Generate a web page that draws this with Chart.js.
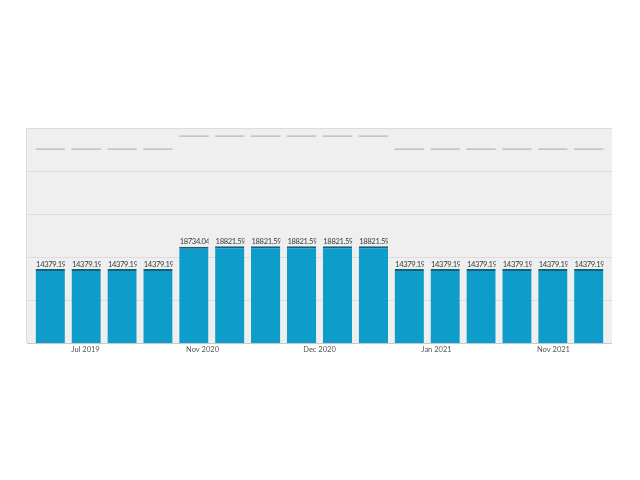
<!DOCTYPE html>
<html>
<head>
<meta charset="utf-8">
<script src="https://cdn.jsdelivr.net/npm/chart.js@4"></script>
<style>
  html, body { margin: 0; padding: 0; background: #fff; }
  #wrap { width: 640px; height: 480px; }
</style>
</head>
<body>
<div id="wrap"><canvas id="chart"></canvas></div>
<script>
const periods = ["P1", "P2", "P3", "P4", "P5", "P6", "P7", "P8",
                 "P9", "P10", "P11", "P12", "P13", "P14", "P15", "P16"];
const amounts = [14379.19, 14379.19, 14379.19, 14379.19,
                 18734.04, 18821.59, 18821.59, 18821.59, 18821.59, 18821.59,
                 14379.19, 14379.19, 14379.19, 14379.19, 14379.19, 14379.19];
const limits = [37700, 37700, 37700, 37700,
                40225, 40225, 40225, 40225, 40225, 40225,
                37700, 37700, 37700, 37700, 37700, 37700];
const monthLabels = ["Jul 2019", "Nov 2020", "Dec 2020", "Jan 2021", "Nov 2021"];

const PAD_X = 5.3; // grey panel sticks out a little past the bar area

// grey plot panel with its own grid lines
const plotBackground = {
  id: "plotBackground",
  beforeDatasetsDraw(chart) {
    const { ctx, chartArea: a, scales } = chart;
    const l = a.left - PAD_X, r = a.right + PAD_X;
    ctx.save();
    ctx.fillStyle = "#efefef";
    ctx.fillRect(l, a.top, r - l, a.bottom - a.top);
    ctx.strokeStyle = "#dcdcdc";
    ctx.lineWidth = 1;
    ctx.beginPath();
    scales.y.ticks.forEach(t => {
      const y = Math.round(scales.y.getPixelForValue(t.value)) + 0.5;
      if (y < a.bottom - 1) {
        ctx.moveTo(l, y);
        ctx.lineTo(r, y);
      }
    });
    ctx.moveTo(l - 0.5, a.top);
    ctx.lineTo(l - 0.5, a.bottom);
    ctx.stroke();
    ctx.restore();
  },
  afterDatasetsDraw(chart) {
    const { ctx, chartArea: a } = chart;
    ctx.save();
    ctx.strokeStyle = "#c8c8c8";
    ctx.beginPath();
    ctx.moveTo(a.left - PAD_X, a.bottom + 0.5);
    ctx.lineTo(a.right + PAD_X, a.bottom + 0.5);
    ctx.stroke();
    ctx.restore();
  }
};

// value labels above bars, clipped to the bar width
const barLabels = {
  id: "barLabels",
  afterDatasetsDraw(chart) {
    const { ctx } = chart;
    const meta = chart.getDatasetMeta(0);
    ctx.save();
    ctx.font = "7.6px Lato, sans-serif";
    ctx.letterSpacing = "-0.35px";
    ctx.fillStyle = "#3a3a3a";
    ctx.textBaseline = "bottom";
    meta.data.forEach((bar, i) => {
      const left = bar.x - bar.width / 2;
      ctx.save();
      ctx.beginPath();
      ctx.rect(left, bar.y - 12, bar.width, 12);
      ctx.clip();
      ctx.fillText(amounts[i].toFixed(2) + " $", left + 0.5, bar.y - 1);
      ctx.restore();
    });
    ctx.restore();
  }
};

new Chart(document.getElementById("chart"), {
  type: "bar",
  data: {
    labels: periods,
    datasets: [
      {
        label: "Amount",
        data: amounts,
        backgroundColor: "#0e9dca",
        borderColor: "#15607a",
        borderWidth: { top: 2, left: 0, right: 0, bottom: 0 },
        borderSkipped: false,
        barPercentage: 0.816,
        categoryPercentage: 1.0,
        order: 2
      },
      {
        type: "line",
        label: "Limit",
        data: limits,
        showLine: false,
        pointStyle: "line",
        pointRadius: 14.6,
        pointHoverRadius: 14.6,
        pointBorderWidth: 1,
        pointBorderColor: "#a8a8a8",
        borderColor: "#a8a8a8",
        order: 1
      }
    ]
  },
  options: {
    responsive: true,
    maintainAspectRatio: false,
    animation: false,
    layout: { padding: { left: 32.3, right: 33.3, top: 128, bottom: 124 } },
    plugins: {
      legend: { display: false },
      tooltip: { enabled: false }
    },
    scales: {
      x: { display: false, offset: true },
      // month labels sit under five equal slices of the grey panel
      x2: {
        type: "linear",
        position: "bottom",
        offset: false,
        min: 0.045,
        max: 4.955,
        afterBuildTicks(axis) {
          axis.ticks = monthLabels.map((_, i) => ({ value: i + 0.5 }));
        },
        grid: { display: false, drawTicks: false, offset: false },
        border: { display: false },
        ticks: {
          color: "#555",
          font: { family: "Lato, sans-serif", size: 7.5 },
          padding: 2,
          maxRotation: 0,
          autoSkip: false,
          callback: (v, i) => monthLabels[i]
        }
      },
      y: {
        min: 0,
        max: 41800,
        ticks: { display: false, stepSize: 8360 },
        grid: { display: false, drawTicks: false },
        border: { display: false }
      }
    }
  },
  plugins: [plotBackground, barLabels]
});
</script>
</body>
</html>
